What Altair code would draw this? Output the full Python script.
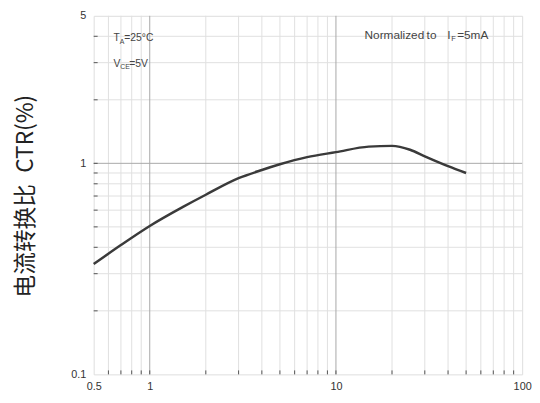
import altair as alt
import pandas as pd

# ---- data ----
if_ma = [0.5, 0.7, 1, 1.5, 2, 3, 4, 5, 7, 10, 15, 20, 25, 30, 40, 50]
ctr_rel = [0.333, 0.41, 0.505, 0.62, 0.71, 0.85, 0.93, 0.99, 1.07, 1.13, 1.20, 1.21, 1.16, 1.08, 0.97, 0.90]

x_ticks = [0.5, 1, 10, 100]
y_ticks = [0.1, 1, 5]
x_minor = [0.6, 0.7, 0.8, 0.9, 2, 3, 4, 5, 6, 7, 8, 9, 20, 30, 40, 50, 60, 70, 80, 90]
x_major = [1, 10]
y_minor = [0.2, 0.3, 0.4, 0.5, 0.6, 0.7, 0.8, 0.9, 2, 3, 4]
y_major = [1]

y_title = "电流转换比\u2002CTR(%)"
ann_main = ["T", "=25°C", "V", "=5V", "Normalized", "to", "I", "=5mA"]
ann_sub = ["A", "CE", "F"]

W, H = 435, 364
xs = alt.Scale(type="log", domain=[0.5, 100], nice=False)
ys = alt.Scale(type="log", domain=[0.1, 5], nice=False)
FONT = "Liberation Sans"

curve_df = pd.DataFrame({"x": if_ma, "y": ctr_rel})

xminor = alt.Chart(pd.DataFrame({"x": x_minor})).mark_rule(color="#e0e0e0", strokeWidth=1).encode(
    x=alt.X("x:Q", scale=xs, axis=alt.Axis(values=x_ticks, format="~g", title=None, grid=False,
                                          domain=False, ticks=False, labelPadding=6, labelFontSize=11,
                                          labelFont=FONT, labelColor="#333", labelFlush=False)))
yminor = alt.Chart(pd.DataFrame({"y": y_minor})).mark_rule(color="#e0e0e0", strokeWidth=1).encode(
    y=alt.Y("y:Q", scale=ys, axis=alt.Axis(values=y_ticks, format="~g", title=None, grid=False,
                                          domain=False, ticks=False, labelPadding=8, labelFontSize=11,
                                          labelFont=FONT, labelColor="#333", labelFlush=False)))
xmajor = alt.Chart(pd.DataFrame({"x": x_major})).mark_rule(color="#a8a8a8", strokeWidth=1).encode(
    x=alt.X("x:Q", scale=xs))
ymajor = alt.Chart(pd.DataFrame({"y": y_major})).mark_rule(color="#a8a8a8", strokeWidth=1).encode(
    y=alt.Y("y:Q", scale=ys))

yticks_in = alt.Chart(pd.DataFrame({"y": y_minor + y_major})).mark_rule(color="#555", strokeWidth=1).encode(
    y=alt.Y("y:Q", scale=ys), x=alt.value(0), x2=alt.value(4))
xticks_in = alt.Chart(pd.DataFrame({"x": x_minor + x_major})).mark_rule(color="#555", strokeWidth=1).encode(
    x=alt.X("x:Q", scale=xs), y=alt.value(H), y2=alt.value(H - 4))

line = alt.Chart(curve_df).mark_line(color="#3a3a3a", strokeWidth=2.5, interpolate="monotone").encode(
    x=alt.X("x:Q", scale=xs), y=alt.Y("y:Q", scale=ys))

one = pd.DataFrame({"k": [0]})


def txt(s, x, y, size=10.5):
    return alt.Chart(one).mark_text(text=s, align="left", baseline="middle", font=FONT,
                                    fontSize=size, color="#444").encode(x=alt.value(x), y=alt.value(y))


texts = [
    txt(ann_main[0], 20, 23), txt(ann_sub[0], 26.5, 27, 7), txt(ann_main[1], 31, 23),
    txt(ann_main[2], 20, 49), txt(ann_sub[1], 27, 52, 7), txt(ann_main[3], 36, 49),
    txt(ann_main[4], 275, 20, 12), txt(ann_main[5], 338, 20, 12), txt(ann_main[6], 359, 20, 12),
    txt(ann_sub[2], 363, 24, 7.5), txt(ann_main[7], 369, 20, 12),
]

ytitle = alt.Chart(one).mark_text(text=y_title, angle=270, align="center", baseline="middle",
                                  font="Noto Sans CJK SC", fontSize=23, color="#222").encode(
    x=alt.value(-69), y=alt.value(183))

chart = alt.layer(xminor, yminor, xmajor, ymajor, yticks_in, xticks_in, line, ytitle, *texts).properties(
    width=W, height=H,
    autosize=alt.AutoSizeParams(type="none"),
    padding={"left": 87, "top": 5, "right": 10, "bottom": 18},
).configure_view(stroke="#555", strokeWidth=1.5).configure(background="white")

chart.save("out.html", embed_options={"renderer": "svg", "actions": False})
